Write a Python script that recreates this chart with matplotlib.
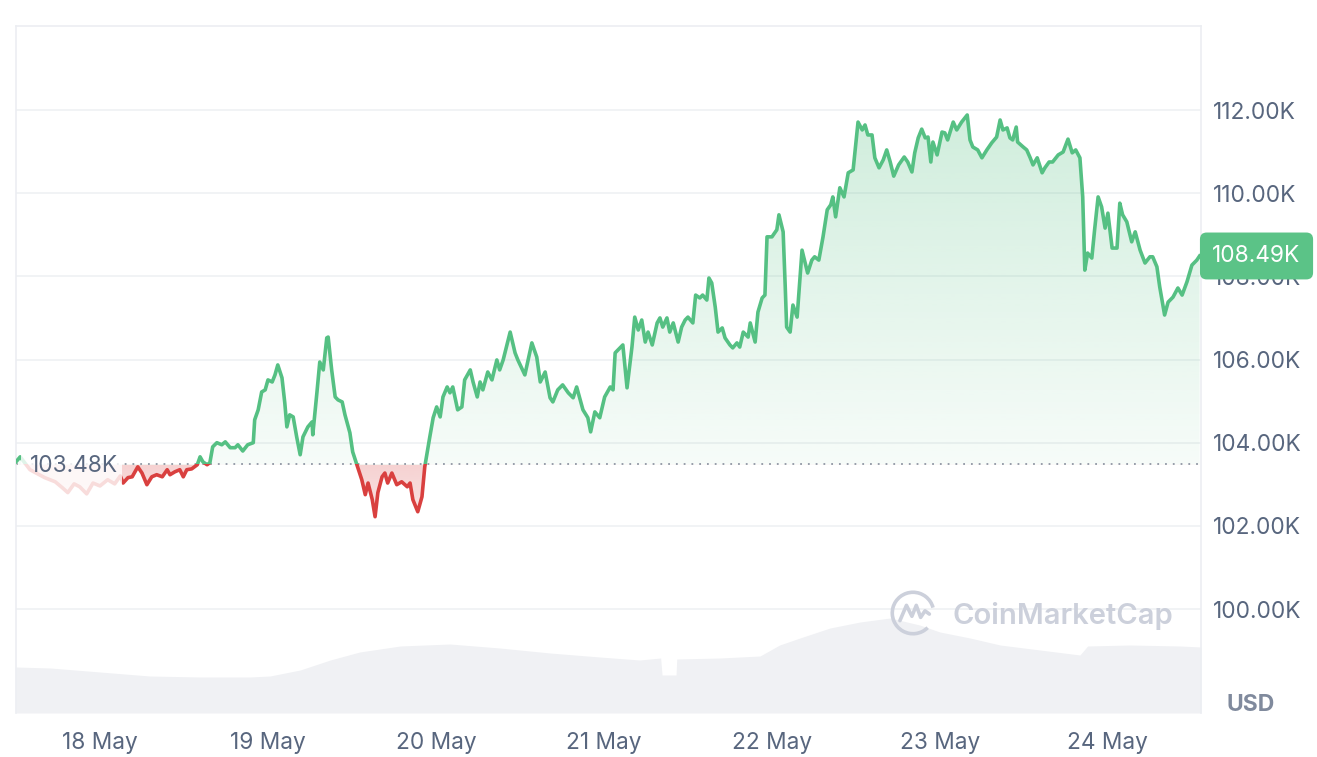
import numpy as np
import matplotlib.pyplot as plt
from matplotlib.patches import Rectangle, Arc

# -------------------------------------------------------
# Data (hours since 17 May 00:00, price in thousands USD)
# -------------------------------------------------------

hours = [
    12.0, 12.6, 14.0, 16.1, 17.6, 18.6, 19.4, 20.3, 21.1, 22.1, 23.0, 24.0,
    25.1, 26.1, 26.9, 27.3, 28.0, 28.6, 29.0, 29.4, 30.0, 30.7, 31.4, 32.1,
    32.9, 33.6, 34.0, 34.7, 35.4, 35.9, 36.4, 37.1, 37.9, 38.3, 38.7, 39.3,
    39.7, 40.1, 40.7, 41.4, 41.9, 42.6, 43.3, 43.7, 44.4, 45.1, 45.9, 46.1,
    46.6, 47.1, 47.6, 48.0, 48.6, 49.0, 49.4, 50.0, 50.4, 50.7, 51.1, 51.6,
    52.1, 52.6, 53.0, 53.7, 54.3, 54.4, 55.0, 55.4, 55.9, 56.4, 56.6, 57.1,
    57.6, 58.0, 58.6, 59.0, 59.7, 60.1, 60.7, 61.4, 61.9, 62.3, 62.9, 63.3,
    63.7, 64.3, 64.7, 65.1, 65.7, 66.4, 67.1, 67.9, 68.3, 68.7, 69.4, 70.0,
    70.4, 71.1, 71.6, 72.1, 72.6, 73.0, 73.6, 74.0, 74.4, 75.1, 75.7, 76.1,
    76.9, 77.3, 77.9, 78.3, 78.7, 79.4, 80.0, 80.7, 81.1, 81.6, 82.6, 83.3,
    83.7, 84.7, 85.7, 86.4, 86.9, 87.6, 88.3, 88.7, 89.4, 90.1, 90.9, 91.6,
    92.1, 93.0, 93.7, 94.1, 94.7, 95.4, 96.1, 96.9, 97.3, 97.6, 98.3, 98.7,
    99.3, 100.0, 100.4, 100.9, 101.4, 101.9, 102.3, 102.9, 103.6, 104.0, 104.4, 105.0,
    105.4, 105.9, 106.6, 107.1, 107.6, 108.0, 108.7, 109.1, 109.7, 110.1, 110.7, 111.0,
    111.4, 111.9, 112.3, 112.9, 113.3, 114.0, 114.4, 115.0, 115.4, 115.9, 116.6, 116.9,
    117.6, 118.0, 118.6, 119.0, 119.3, 120.0, 120.7, 121.0, 121.6, 121.9, 122.1, 122.6,
    123.0, 123.6, 124.3, 124.7, 125.1, 125.7, 126.1, 126.7, 127.3, 127.9, 128.4, 128.7,
    129.1, 129.7, 130.3, 130.9, 131.6, 132.3, 132.9, 133.3, 133.7, 134.3, 134.7, 135.3,
    135.9, 136.4, 136.9, 137.4, 138.1, 138.9, 139.4, 140.0, 140.4, 140.9, 141.4, 141.9,
    142.3, 142.7, 143.0, 143.6, 144.3, 144.7, 145.1, 145.9, 146.4, 147.1, 147.9, 148.3,
    148.7, 149.4, 150.0, 150.7, 151.4, 152.1, 152.6, 153.0, 153.6, 154.0, 154.4, 154.9,
    155.1, 155.9, 156.4, 156.9, 157.3, 157.9, 158.6, 159.0, 159.6, 160.1, 160.9, 161.6,
    162.3, 162.9, 163.4, 164.0, 164.4, 164.7, 165.1, 165.7, 166.1, 166.6, 167.1, 167.6,
    168.0, 168.6, 169.3, 169.7, 170.1, 170.7, 171.4, 171.9, 172.6, 173.3, 174.0, 174.4,
    175.0, 175.4, 176.1, 176.6, 177.3, 178.0, 178.6, 179.3, 180.0, 180.7, 181.1
]

price_k = [
    103.54, 103.66, 103.35, 103.16, 103.06, 102.92, 102.80, 103.01, 102.94, 102.77, 103.03, 102.96,
    103.11, 103.01, 103.20, 103.03, 103.16, 103.18, 103.30, 103.42, 103.27, 102.99, 103.18, 103.23,
    103.18, 103.35, 103.23, 103.30, 103.35, 103.18, 103.35, 103.37, 103.47, 103.66, 103.54, 103.47,
    103.52, 103.90, 104.00, 103.95, 104.02, 103.88, 103.88, 103.95, 103.80, 103.95, 104.00, 104.55,
    104.79, 105.22, 105.27, 105.51, 105.46, 105.63, 105.87, 105.56, 104.96, 104.38, 104.67, 104.62,
    104.14, 103.71, 104.14, 104.38, 104.50, 104.19, 105.22, 105.94, 105.75, 106.52, 106.54, 105.75,
    105.10, 105.03, 104.98, 104.67, 104.24, 103.78, 103.47, 103.11, 102.75, 103.03, 102.63, 102.22,
    102.80, 103.18, 103.27, 103.03, 103.27, 102.99, 103.06, 102.94, 103.03, 102.63, 102.34, 102.70,
    103.42, 104.12, 104.60, 104.86, 104.62, 105.10, 105.34, 105.20, 105.34, 104.79, 104.86, 105.51,
    105.75, 105.46, 105.10, 105.46, 105.27, 105.70, 105.51, 105.99, 105.75, 105.99, 106.66, 106.16,
    105.99, 105.63, 106.40, 106.06, 105.46, 105.70, 105.08, 104.98, 105.27, 105.39, 105.20, 105.08,
    105.34, 104.79, 104.60, 104.26, 104.74, 104.60, 105.10, 105.34, 105.27, 106.16, 106.28, 106.35,
    105.32, 106.30, 107.02, 106.71, 106.95, 106.42, 106.66, 106.35, 106.88, 107.00, 106.78, 107.00,
    106.66, 106.88, 106.42, 106.78, 106.95, 107.02, 106.88, 107.55, 107.48, 107.55, 107.43, 107.96,
    107.84, 107.26, 106.66, 106.76, 106.52, 106.35, 106.28, 106.40, 106.30, 106.66, 106.54, 106.88,
    106.42, 107.14, 107.48, 107.55, 108.95, 108.95, 109.12, 109.48, 109.07, 107.75, 106.78, 106.66,
    107.31, 107.02, 108.63, 108.35, 108.08, 108.39, 108.47, 108.39, 108.95, 109.60, 109.72, 109.91,
    109.43, 110.13, 109.91, 110.49, 110.56, 111.71, 111.52, 111.64, 111.40, 111.40, 110.85, 110.61,
    110.80, 111.04, 110.75, 110.41, 110.68, 110.87, 110.75, 110.51, 110.97, 111.33, 111.54, 111.33,
    111.35, 110.75, 111.23, 110.92, 111.47, 111.45, 111.28, 111.71, 111.52, 111.71, 111.88, 111.28,
    111.11, 111.04, 110.85, 111.04, 111.21, 111.35, 111.76, 111.52, 111.57, 111.33, 111.28, 111.59,
    111.23, 111.11, 111.04, 110.85, 110.68, 110.85, 110.49, 110.61, 110.75, 110.75, 110.92, 110.99,
    111.30, 110.97, 111.04, 110.85, 109.91, 108.15, 108.56, 108.44, 109.12, 109.91, 109.67, 109.16,
    109.52, 108.68, 108.68, 109.76, 109.48, 109.31, 108.83, 109.07, 108.63, 108.32, 108.47, 108.47,
    108.23, 107.75, 107.07, 107.38, 107.50, 107.72, 107.55, 107.87, 108.27, 108.39, 108.49
]

vol_hours = [
    12.0, 16.9, 24.0, 31.1, 38.3, 45.4, 48.3, 52.6, 56.9, 61.1, 66.9, 74.0,
    81.1, 88.3, 95.4, 101.1, 104.1, 104.3, 106.3, 106.4, 112.6, 118.3, 121.1, 124.0,
    128.3, 132.6, 136.9, 141.1, 144.0, 148.3, 152.6, 158.3, 164.0, 165.1, 171.1, 178.3,
    181.3
]

volume_b = [
    23.0, 22.5, 20.5, 18.5, 18.0, 18.0, 18.5, 21.5, 26.5, 30.5, 33.5, 34.5,
    32.5, 30.0, 28.0, 26.5, 27.5, 19.0, 19.0, 27.0, 27.5, 28.5, 34.0, 37.5,
    42.5, 45.5, 47.5, 44.0, 40.5, 37.5, 34.0, 31.5, 29.0, 33.5, 34.0, 33.5,
    33.0
]

open_price = 103.48

day_ticks = [24, 48, 72, 96, 120, 144, 168]
day_labels = ["18 May", "19 May", "20 May", "21 May", "22 May", "23 May", "24 May"]

price_ticks = [100, 102, 104, 106, 108, 110, 112]

# -------------------------------------------------------
# Style
# -------------------------------------------------------

plt.rcParams["font.family"] = ["Inter", "DejaVu Sans"]

green = "#55c083"
red = "#d9403f"
text_grey = "#58667e"
grid_grey = "#eff1f4"
fs = 16.3

t0, t1 = 12.0, 181.3
y_min, y_max = 97.5, 114.02

W, H = 1317, 757
fig = plt.figure(figsize=(W / 100, H / 100), dpi=100)

rect = [16 / W, 44 / H, 1185 / W, 687 / H]

# volume in the background
ax_vol = fig.add_axes(rect, zorder=0)
ax_vol.fill_between(vol_hours, volume_b, 0, color="#f0f1f4", lw=0)
ax_vol.set_xlim(t0, t1)
ax_vol.set_ylim(0, 343.5)
ax_vol.axis("off")

ax = fig.add_axes(rect, zorder=1)
ax.patch.set_visible(False)

t = np.array(hours)
p = np.array(price_k)

# -------------------------------------------------------
# Gradient fill between line and opening price
# -------------------------------------------------------

yy = np.linspace(y_min, y_max, 600)
rgba = np.zeros((600, 1, 4))
above = yy >= open_price
g_rgb = np.array([85, 192, 131]) / 255
r_rgb = np.array([217, 64, 63]) / 255
frac_up = np.clip((yy - open_price) / (112 - open_price), 0, 1)
frac_dn = np.clip((open_price - yy) / (open_price - 102.2), 0, 1)
rgba[above, 0, :3] = g_rgb
rgba[above, 0, 3] = 0.05 + 0.23 * frac_up[above]
rgba[~above, 0, :3] = r_rgb
rgba[~above, 0, 3] = 0.24 - 0.10 * frac_dn[~above]

im = ax.imshow(rgba, extent=[t0, t1, y_min, y_max], origin="lower",
               aspect="auto", interpolation="bilinear", zorder=1)
poly = ax.fill_between(t, p, open_price, facecolor="none", edgecolor="none")
im.set_clip_path(poly.get_paths()[0], transform=ax.transData)

# dotted opening price line
ax.axhline(open_price, color="#8f96a3", lw=1.3, ls=(0, (1, 3.3)), zorder=2)

# price line, green above / red below the opening price
clip_up = Rectangle((t0, open_price), t1 - t0, y_max - open_price, transform=ax.transData)
clip_dn = Rectangle((t0, y_min), t1 - t0, open_price - y_min, transform=ax.transData)

line_g, = ax.plot(t, p, color=green, lw=2.6, solid_joinstyle="round", zorder=3)
line_g.set_clip_path(clip_up)
line_r, = ax.plot(t, p, color=red, lw=2.6, solid_joinstyle="round", zorder=3)
line_r.set_clip_path(clip_dn)

# white veil behind the opening price label
ax.add_patch(Rectangle((12.7, 102.5), 14.4, 1.21, facecolor="white",
                       edgecolor="none", alpha=0.82, zorder=4))
ax.text(14.0, open_price - 0.03, f"{open_price:.2f}K", color=text_grey,
        fontsize=fs, va="center", ha="left", zorder=5)

# -------------------------------------------------------
# Axes
# -------------------------------------------------------

ax.set_xlim(t0, t1)
ax.set_ylim(y_min, y_max)

ax.set_xticks(day_ticks)
ax.set_xticklabels(day_labels)
ax.set_yticks(price_ticks)
ax.set_yticklabels([f"{v:.2f}K" for v in price_ticks])
ax.yaxis.tick_right()
ax.tick_params(axis="y", length=0, pad=8.4, labelsize=fs, labelcolor=text_grey)
ax.tick_params(axis="x", length=0, pad=14, labelsize=fs, labelcolor=text_grey)

ax.grid(axis="y", color=grid_grey, lw=1.2, zorder=0)
ax.set_axisbelow(True)

for side in ["left", "top", "right"]:
    ax.spines[side].set_color("#eceef2")
    ax.spines[side].set_linewidth(1.2)
ax.spines["bottom"].set_visible(False)

# current price tag
ax.annotate(f"{price_k[-1]:.2f}K", xy=(1, price_k[-1]), xycoords=("axes fraction", "data"),
            xytext=(8.2, 0), textcoords="offset points", ha="left", va="center",
            color="white", fontsize=fs, annotation_clip=False, zorder=10,
            bbox=dict(boxstyle="round,pad=0.55,rounding_size=0.3", fc="#5bc387", ec="none"))

fig.text(1251 / W, 1 - 705 / H, "USD", ha="center", va="center",
         fontsize=16.5, fontweight="bold", color="#808a9d")

# -------------------------------------------------------
# Watermark
# -------------------------------------------------------

wm_color = "#ccd0db"
fig.text(953 / W, 1 - 616 / H, "CoinMarketCap", ha="left", va="center",
         fontsize=21, fontweight="semibold", color=wm_color, zorder=3)

ax_logo = fig.add_axes([889 / W, 1 - 637 / H, 48 / W, 48 / H], zorder=3)
ax_logo.add_patch(Arc((0, 0), 1.9, 1.9, theta1=15, theta2=315, color=wm_color, lw=2.6))
ax_logo.plot([-0.6, -0.3, -0.05, 0.15, 0.35, 0.55, 0.75],
             [-0.35, 0.35, -0.15, 0.35, -0.2, 0.1, -0.05],
             color=wm_color, lw=2.6, solid_joinstyle="round", solid_capstyle="round")
ax_logo.set_xlim(-1.1, 1.1)
ax_logo.set_ylim(-1.1, 1.1)
ax_logo.set_aspect("equal")
ax_logo.axis("off")

fig.savefig("out.png", dpi=100)
